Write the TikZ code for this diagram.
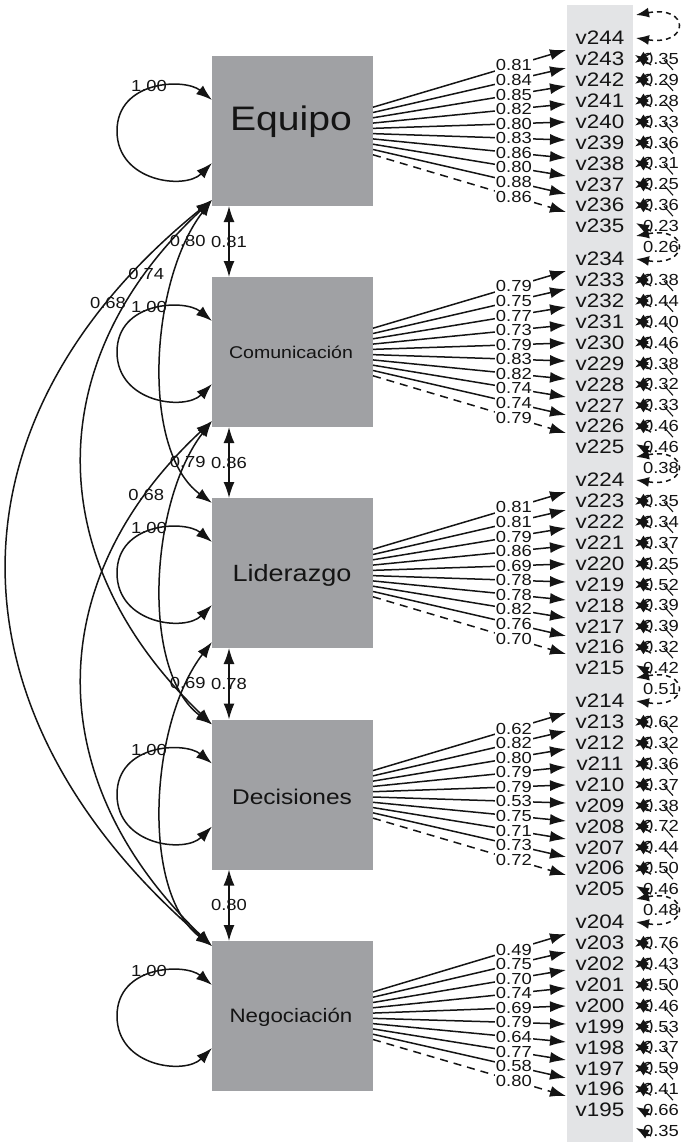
\documentclass[tikz,border=0pt]{standalone}
\usepackage{fontspec}
\setmainfont{Liberation Sans}[FakeStretch=1.15]
\usetikzlibrary{arrows.meta,calc}
\definecolor{latent}{RGB}{160,161,164}
\definecolor{obscol}{RGB}{227,228,230}
\definecolor{ink}{RGB}{20,20,20}
\newcommand{\fsz}[1]{\fontsize{#1}{#1}\selectfont}
\tikzset{
  bigtip/.tip={Latex[length=16pt,width=11pt]},
  smalltip/.tip={Latex[length=13pt,width=10pt]}
}
\begin{document}
\begin{tikzpicture}[x=1pt,y=-1pt,
  latentbox/.style={fill=latent,draw=none,minimum width=161pt,minimum height=150pt,inner sep=0pt,outer sep=0pt},
  conn/.style={line width=1.5pt,draw=ink},
  one/.style={conn,-bigtip},
  two/.style={conn,bigtip-bigtip},
  small/.style={line width=1.3pt,draw=ink,-smalltip},
  loadlab/.style={fill=white,inner sep=0.7pt,text=ink,font=\fsz{16}},
  corrlab/.style={inner sep=0pt,text=ink,font=\fsz{16}},
  reslab/.style={inner sep=0pt,text=ink,font=\fsz{16}},
  vlab/.style={inner sep=0pt,text=ink,font=\fsz{19.5}},
  boxlab/.style={inner sep=0pt,text=ink}]

\useasboundingbox (0,0) rectangle (687,1142);
\fill[white] (0,0) rectangle (687,1142);
\fill[obscol] (567,5) rectangle (633,1142);

% latent boxes
\node[latentbox] (A) at (292.5,131) {};
\node[latentbox] (B) at (292.5,352) {};
\node[latentbox] (C) at (292.5,573) {};
\node[latentbox] (D) at (292.5,794.5) {};
\node[latentbox] (E) at (292.5,1016) {};
\node[boxlab,font=\fsz{34}] (At) at (291,122) {Equipo};
\node[boxlab,font=\fsz{17}] (Bt) at (291,352) {Comunicación};
\node[boxlab,font=\fsz{23.5}] (Ct) at (292,575) {Liderazgo};
\node[boxlab,font=\fsz{21.3}] (Dt) at (292,797) {Decisiones};
\node[boxlab,font=\fsz{19.4}] (Et) at (291,1017) {Negociación};

% variance loops
\foreach \b/\cy in {A/131,B/352,C/573,D/794.5,E/1016}{
  \coordinate (\b-vt) at (212,{\cy-31});
  \coordinate (\b-vb) at (212,{\cy+32});
  \draw[two] (\b-vt) .. controls (185,{\cy-53}) and (117,{\cy-51}) .. (117,\cy)
        .. controls (117,{\cy+51}) and (185,{\cy+59}) .. (\b-vb);
  \node[corrlab] (\b-var) at (149,{\cy-45}) {1.00};
}

% corner points for correlations
\coordinate (A-s) at ($(A.south west)+(0,-6)$);
\coordinate (B-s) at ($(B.south west)+(0,-6)$);
\coordinate (C-s) at ($(C.south west)+(0,-6)$);
\coordinate (C-n) at ($(C.north west)+(0,5)$);
\coordinate (D-n) at ($(D.north west)+(0,5)$);
\coordinate (E-n) at ($(E.north west)+(0,5)$);

% curved correlations
\draw[two] (A-s) .. controls (150,280) and (140,450) .. (C-n) node[corrlab,pos=0.15] {0.80};
\draw[two] (A-s) .. controls (40,360) and (40,560) .. (D-n) node[corrlab,pos=0.15] {0.74};
\draw[two] (A-s) .. controls (-60,420) and (-60,711) .. (E-n) node[corrlab,pos=0.15] {0.68};
\draw[two] (B-s) .. controls (150,501) and (140,671) .. (D-n) node[corrlab,pos=0.15] {0.79};
\draw[two] (B-s) .. controls (40,581) and (40,781) .. (E-n) node[corrlab,pos=0.15] {0.68};
\draw[two] (C-s) .. controls (150,722) and (140,892) .. (E-n) node[corrlab,pos=0.15] {0.69};

% adjacent correlations
\draw[two] ($(A.south west)+(17,0)$) -- ($(B.north west)+(17,0)$) node[corrlab,midway] {0.81};
\draw[two] ($(B.south west)+(17,0)$) -- ($(C.north west)+(17,0)$) node[corrlab,midway] {0.86};
\draw[two] ($(C.south west)+(17,0)$) -- ($(D.north west)+(17,0)$) node[corrlab,midway] {0.78};
\draw[two] ($(D.south west)+(17,0)$) -- ($(E.north west)+(17,0)$) node[corrlab,midway] {0.80};

% loadings, indicators, residuals
\foreach \b/\g/\vtop/\loads/\ress in {
 A/0/244/{0.81,0.84,0.85,0.82,0.80,0.83,0.86,0.80,0.88,0.86}/{0.35,0.29,0.28,0.33,0.36,0.31,0.25,0.36,0.23,0.26},
 B/1/234/{0.79,0.75,0.77,0.73,0.79,0.83,0.82,0.74,0.74,0.79}/{0.38,0.44,0.40,0.46,0.38,0.32,0.33,0.46,0.46,0.38},
 C/2/224/{0.81,0.81,0.79,0.86,0.69,0.78,0.78,0.82,0.76,0.70}/{0.35,0.34,0.37,0.25,0.52,0.39,0.39,0.32,0.42,0.51},
 D/3/214/{0.62,0.82,0.80,0.79,0.79,0.53,0.75,0.71,0.73,0.72}/{0.62,0.32,0.36,0.37,0.38,0.72,0.44,0.50,0.46,0.48},
 E/4/204/{0.49,0.75,0.70,0.74,0.69,0.79,0.64,0.77,0.58,0.80}/{0.76,0.43,0.50,0.46,0.53,0.37,0.59,0.41,0.66,0.35}}{
  \foreach \l [count=\k from 0] in \loads {
    \pgfmathsetmacro\ty{50+221*\g+18*\k}
    \coordinate (t\g-\k) at (566,\ty);
    \ifnum\k<9
      \draw[one] (\b) -- (t\g-\k) node[loadlab,pos=0.73] {\l};
    \else
      \draw[one,dash pattern=on 8pt off 6pt] (\b) -- (t\g-\k) node[loadlab,pos=0.73] {\l};
    \fi
    \pgfmathsetmacro\vy{38+221*\g+20.9*\k}
    \pgfmathtruncatemacro\vn{\vtop-\k}
    \node[vlab] (v\vn) at (600,\vy) {v\vn};
  }
  \foreach \r [count=\k from 0] in \ress {
    \pgfmathsetmacro\ry{38+221*\g+20.9*(\k+1)}
    \node[reslab] (r\g-\k) at (661,\ry) {\r};
    \ifnum\k<8
      \draw[small] (651,{\ry+6}) -- (635,{\ry-4});
      \draw[small] (651,{\ry-6}) -- (635,{\ry+4});
      \draw[line width=1.1pt,ink] (664,{\ry+1}) -- (673,{\ry+11});
    \else
      \ifnum\k=8 \draw[small] (651,{\ry+5}) -- (636,{\ry-3}); \fi
      \ifnum\g=4 \ifnum\k=9 \draw[small] (651,{\ry+5}) -- (636,{\ry-3}); \fi\fi
    \fi
  }
  \pgfmathsetmacro\ya{38+221*\g}
  \coordinate (c\g-a) at (636,{\ya-23});
  \coordinate (c\g-b) at (636,\ya);
  \draw[conn,smalltip-smalltip,dash pattern=on 5pt off 4pt] (c\g-a) .. controls (690,{\ya-33}) and (690,{\ya+8}) .. (c\g-b);
}
\end{tikzpicture}
\end{document}
